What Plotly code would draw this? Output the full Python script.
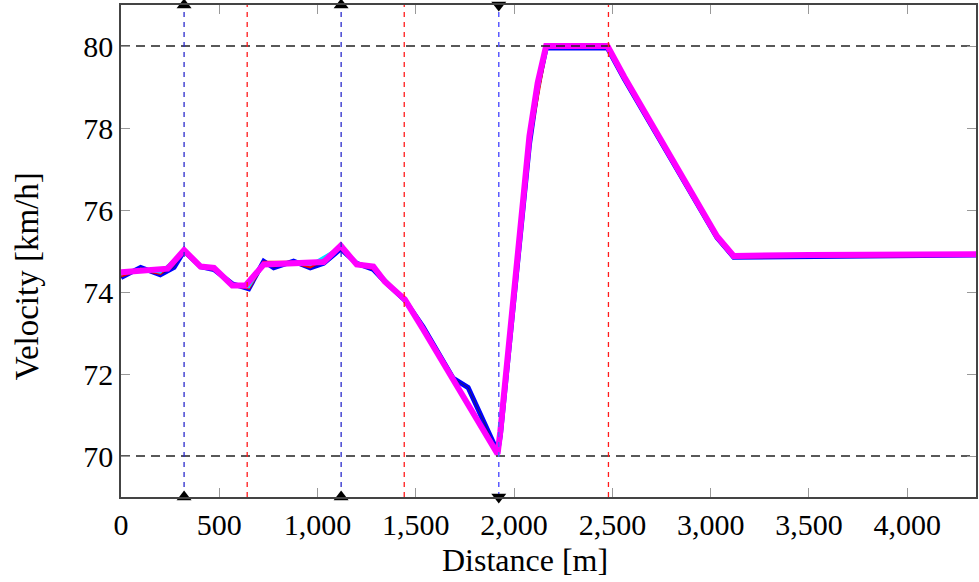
import plotly.graph_objects as go

# ---- data ----
mag_x = [0, 237, 321, 405, 473, 566, 634, 726, 1031, 1118, 1199, 1284, 1343, 1444, 1537, 1689, 1916, 1930, 2078, 2120, 2163, 2475, 2560, 3032, 3117, 3500, 4350]
mag_v = [74.48, 74.57, 75.02, 74.62, 74.59, 74.16, 74.16, 74.67, 74.73, 75.13, 74.67, 74.62, 74.25, 73.82, 73.09, 71.87, 70.05, 70.6, 77.8, 79.1, 80.0, 80.0, 79.25, 75.36, 74.88, 74.90, 74.92]

blue_x = [0, 100, 200, 270, 321, 405, 473, 566, 650, 726, 777, 878, 963, 1031, 1118, 1199, 1284, 1343, 1444, 1537, 1689, 1766, 1916, 1930, 2078, 2120, 2163, 2475, 2560, 3032, 3117, 3300, 3600, 3900, 4350]
blue_v = [74.35, 74.60, 74.42, 74.60, 75.00, 74.62, 74.55, 74.20, 74.08, 74.75, 74.59, 74.75, 74.59, 74.70, 75.05, 74.70, 74.55, 74.25, 73.80, 73.15, 71.90, 71.67, 70.10, 70.50, 77.60, 79.00, 79.95, 79.95, 79.20, 75.33, 74.85, 74.86, 74.88, 74.87, 74.90]

red_x = [0, 100, 200, 321, 405, 473, 566, 650, 726, 878, 963, 1118, 1199, 1284, 1444, 1537, 1689, 1916, 1930, 2078, 2163, 2475, 2560, 3032, 3117, 4350]
red_v = [74.40, 74.55, 74.46, 74.98, 74.62, 74.56, 74.18, 74.10, 74.72, 74.72, 74.62, 75.08, 74.68, 74.58, 73.81, 73.12, 71.88, 70.08, 70.55, 77.70, 79.97, 79.97, 79.22, 75.34, 74.86, 74.90]

cyan_x = [0, 100, 200, 321, 405, 473, 566, 650, 726, 878, 963, 1118, 1199, 1284, 1444, 1537, 1689, 1916, 1930, 2078, 2163, 2475, 2560, 3032, 3117, 4350]
cyan_v = [74.43, 74.56, 74.48, 75.00, 74.62, 74.57, 74.17, 74.12, 74.70, 74.72, 74.66, 75.10, 74.68, 74.60, 73.82, 73.10, 71.87, 70.06, 70.58, 77.75, 79.98, 79.98, 79.23, 75.35, 74.87, 74.91]

x_ticks = [0, 500, 1000, 1500, 2000, 2500, 3000, 3500, 4000]
y_ticks = [70, 72, 74, 76, 78, 80]
limits_v = [70, 80]
up_events = [321, 1120]
down_events = [1922]
red_events = [642, 1441, 2480]

X_RANGE = [0, 4350]
Y_RANGE = [69, 81]

fig = go.Figure()

fig.add_trace(go.Scatter(x=blue_x, y=blue_v, mode="lines",
                         line=dict(color="#0000ff", width=5)))
fig.add_trace(go.Scatter(x=blue_x, y=blue_v, mode="lines",
                         line=dict(color="#202060", width=1)))
fig.add_trace(go.Scatter(x=red_x, y=red_v, mode="lines",
                         line=dict(color="#ff0000", width=3.5)))
fig.add_trace(go.Scatter(x=cyan_x, y=cyan_v, mode="lines",
                         line=dict(color="#00e5ff", width=2.5)))
fig.add_trace(go.Scatter(x=mag_x, y=mag_v, mode="lines",
                         line=dict(color="#ff00ff", width=6)))

# horizontal limit lines
for v in limits_v:
    fig.add_trace(go.Scatter(x=X_RANGE, y=[v, v], mode="lines",
                             line=dict(color="#222222", width=1.3, dash="9px,6px")))

# vertical event lines
for e in up_events:
    fig.add_trace(go.Scatter(x=[e, e], y=Y_RANGE, mode="lines",
                             line=dict(color="#2a2acc", width=1.3, dash="5px,5px")))
for e in down_events:
    fig.add_trace(go.Scatter(x=[e, e], y=Y_RANGE, mode="lines",
                             line=dict(color="#5a5aff", width=1.5, dash="5px,5px")))
for e in red_events:
    fig.add_trace(go.Scatter(x=[e, e], y=Y_RANGE, mode="lines",
                             line=dict(color="#ff1a1a", width=1.3, dash="5px,5px")))

# event markers on frame
fig.add_trace(go.Scatter(x=up_events * 2, y=[Y_RANGE[1]] * len(up_events) + [Y_RANGE[0]] * len(up_events),
                         mode="markers", cliponaxis=False,
                         marker=dict(symbol="triangle-up", size=13, color="black")))
fig.add_trace(go.Scatter(x=down_events * 2, y=[Y_RANGE[1]] * len(down_events) + [Y_RANGE[0]] * len(down_events),
                         mode="markers", cliponaxis=False,
                         marker=dict(symbol="triangle-down", size=13, color="black")))

font_family = "Liberation Serif"
fig.update_layout(
    width=979, height=582,
    margin=dict(l=121, r=1, t=5, b=85),
    plot_bgcolor="white", paper_bgcolor="white",
    showlegend=False,
    font=dict(family=font_family, size=30, color="black"),
    annotations=[
        dict(text="Distance [m]", xref="paper", yref="paper", x=0.4726, y=-0.128,
             xanchor="center", yanchor="middle", showarrow=False,
             font=dict(family=font_family, size=32)),
        dict(text="Velocity [km/h]", xref="paper", yref="paper", x=-0.1097, y=0.449,
             xanchor="center", yanchor="middle", showarrow=False, textangle=-90,
             font=dict(family=font_family, size=33)),
    ],
)
fig.update_xaxes(
    range=X_RANGE, tickvals=x_ticks, tickformat=",d",
    showgrid=False, zeroline=False,
    showline=True, linecolor="#444444", linewidth=1.5, mirror="ticks",
    ticks="inside", ticklen=9, tickcolor="#999999", tickwidth=1.3,
    tickfont=dict(family=font_family, size=30),
)
fig.update_yaxes(
    range=Y_RANGE, tickvals=y_ticks,
    showgrid=False, zeroline=False,
    showline=True, linecolor="#444444", linewidth=1.5, mirror="ticks",
    ticks="inside", ticklen=9, tickcolor="#999999", tickwidth=1.3,
    tickfont=dict(family=font_family, size=30),
)

fig.write_html("out.html")
